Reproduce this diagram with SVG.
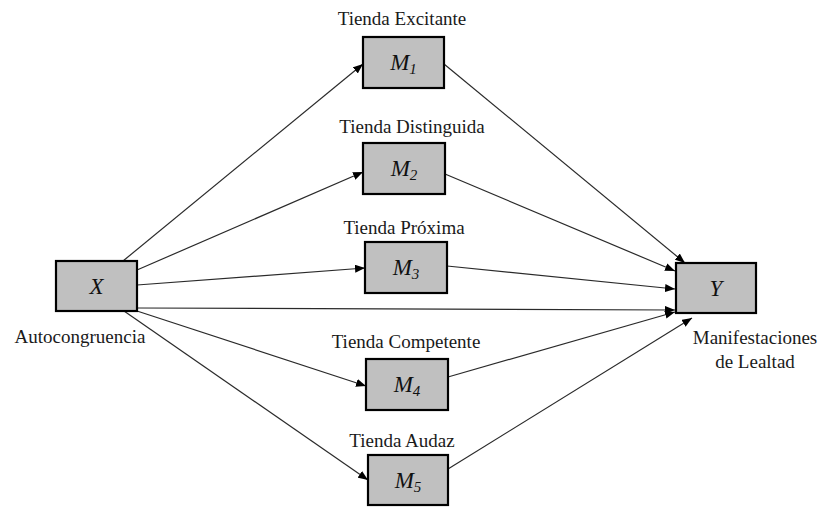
<svg xmlns="http://www.w3.org/2000/svg" width="822" height="507" viewBox="0 0 822 507">
<style>
.box{fill:#c0c0c0;stroke:#000;stroke-width:2.2}
.lab{font-family:"Liberation Serif","Times New Roman",serif;font-size:19px;fill:#1a1a1a;text-anchor:middle}
.var{font-family:"Liberation Serif","Times New Roman",serif;font-style:italic;font-size:23px;fill:#111;text-anchor:middle}
.sub{font-size:15px}
.edge{stroke:#2a2a2a;stroke-width:1.2;fill:none;marker-end:url(#ah)}
</style>
<defs>
<marker id="ah" markerUnits="userSpaceOnUse" markerWidth="10" markerHeight="8" refX="10" refY="4" orient="auto">
<path d="M0,0 L10,4 L0,8 z" fill="#000"/>
</marker>
</defs>
<rect width="822" height="507" fill="#fff"/>
<g id="connectors">
<line class="edge" x1="123" y1="261" x2="363" y2="64"/>
<line class="edge" x1="137" y1="270" x2="363" y2="172"/>
<line class="edge" x1="137" y1="285" x2="365" y2="268"/>
<line class="edge" x1="137" y1="308" x2="675" y2="310"/>
<line class="edge" x1="137" y1="311" x2="366" y2="386"/>
<line class="edge" x1="124" y1="311" x2="368" y2="480"/>
<line class="edge" x1="444" y1="64" x2="685" y2="263"/>
<line class="edge" x1="445" y1="174" x2="675" y2="271"/>
<line class="edge" x1="447" y1="266" x2="675" y2="289"/>
<line class="edge" x1="448" y1="377" x2="675" y2="312"/>
<line class="edge" x1="448" y1="469" x2="692" y2="318"/>
</g>
<g id="X">
<rect class="box" x="56" y="261" width="81" height="50"/>
<text class="var" x="96.5" y="294">X</text>
<text class="lab" x="80" y="343">Autocongruencia</text>
</g>
<g id="M1">
<text class="lab" x="402" y="25">Tienda Excitante</text>
<rect class="box" x="363" y="37" width="81" height="51"/>
<text class="var" x="403.5" y="70">M<tspan class="sub" dy="4">1</tspan></text>
</g>
<g id="M2">
<text class="lab" x="412" y="133">Tienda Distinguida</text>
<rect class="box" x="363" y="143" width="82" height="51"/>
<text class="var" x="404" y="176">M<tspan class="sub" dy="4">2</tspan></text>
</g>
<g id="M3">
<text class="lab" x="404" y="234">Tienda Próxima</text>
<rect class="box" x="365" y="242" width="82" height="51"/>
<text class="var" x="406" y="275">M<tspan class="sub" dy="4">3</tspan></text>
</g>
<g id="M4">
<text class="lab" x="406" y="348">Tienda Competente</text>
<rect class="box" x="366" y="359" width="82" height="51"/>
<text class="var" x="407" y="392">M<tspan class="sub" dy="4">4</tspan></text>
</g>
<g id="M5">
<text class="lab" x="402" y="447">Tienda Audaz</text>
<rect class="box" x="368" y="455" width="80" height="50"/>
<text class="var" x="408" y="488">M<tspan class="sub" dy="4">5</tspan></text>
</g>
<g id="Y">
<rect class="box" x="676" y="263" width="80" height="50"/>
<text class="var" x="716" y="296">Y</text>
<text class="lab" x="755" y="344">Manifestaciones</text>
<text class="lab" x="755" y="368">de Lealtad</text>
</g>
</svg>
